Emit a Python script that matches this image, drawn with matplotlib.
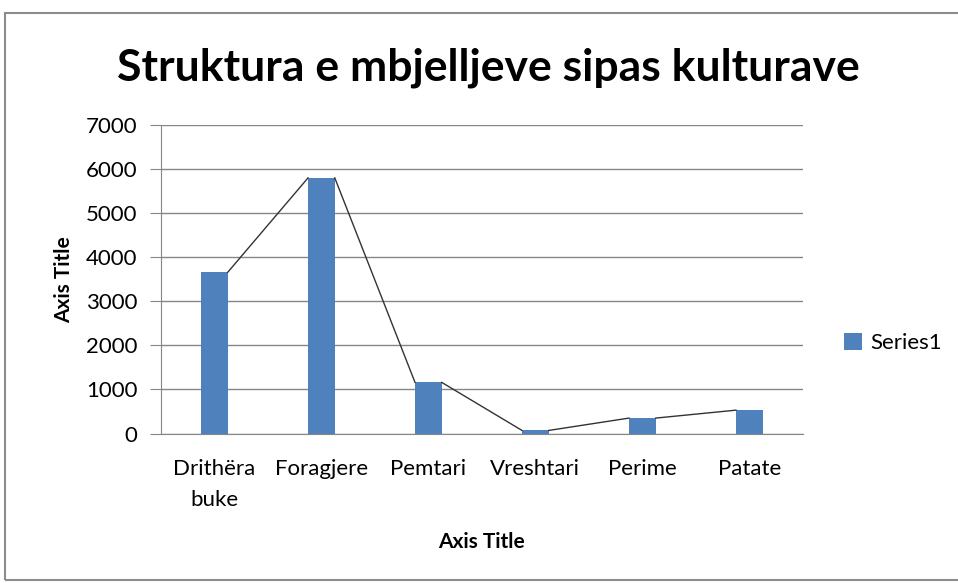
import numpy as np
import matplotlib
matplotlib.use('Agg')
import matplotlib.pyplot as plt
from matplotlib.patches import Rectangle

# Të dhënat
kategorite = ['Drithëra\nbuke', 'Foragjere', 'Pemtari', 'Vreshtari', 'Perime', 'Patate']
vlerat = [3660, 5800, 1160, 70, 350, 530]
yticks = [0, 1000, 2000, 3000, 4000, 5000, 6000, 7000]

plt.rcParams['font.family'] = ['Lato', 'DejaVu Sans']

fig = plt.figure(figsize=(9.58, 5.83), dpi=100)
fig.patches.append(Rectangle((5 / 958, 0.005), 1.0, 0.972, transform=fig.transFigure,
                             fill=False, edgecolor='#8c8c8c', linewidth=1.5))

ax = fig.add_axes([0.168, 0.2564, 0.670, 0.5292])
x = np.arange(len(kategorite))
w = 0.25
bars = ax.bar(x, vlerat, width=w, color='#4f81bd', zorder=3, label='Series1')

# series lines: nga cepi i djathtë i shtyllës te cepi i majtë i tjetrës
for i in range(len(x) - 1):
    ax.plot([x[i] + w / 2, x[i + 1] - w / 2], [vlerat[i], vlerat[i + 1]],
            color='#333333', linewidth=1, zorder=4)

ax.set_xlim(-0.5, len(x) - 0.5)
ax.set_ylim(0, 7000)
ax.set_yticks(yticks)
ax.set_xticks(x)
ax.set_xticklabels(kategorite, fontsize=16, linespacing=1.7)
ax.tick_params(axis='y', labelsize=16, length=8, color='#868686', pad=9)
ax.tick_params(axis='x', length=0, pad=18)
ax.yaxis.grid(True, color='#868686', linewidth=1)
ax.set_axisbelow(True)
for s in ['top', 'right']:
    ax.spines[s].set_visible(False)
ax.spines['left'].set_color('#868686')
ax.spines['bottom'].set_color('#868686')

ax.set_ylabel('Axis Title', fontsize=15, fontweight='bold', labelpad=8)
ax.set_xlabel('Axis Title', fontsize=15, fontweight='bold', labelpad=16)

fig.text(0.51, 0.884, 'Struktura e mbjelljeve sipas kulturave', fontsize=32,
         fontweight='bold', ha='center', va='center')

fig.legend(handles=[bars], labels=['Series1'], loc='center left',
           bbox_to_anchor=(824 / 958, 1 - 343 / 583), frameon=False,
           fontsize=16, handlelength=0.8, handleheight=0.8, handletextpad=0.4)

fig.savefig('out.png', dpi=100)
